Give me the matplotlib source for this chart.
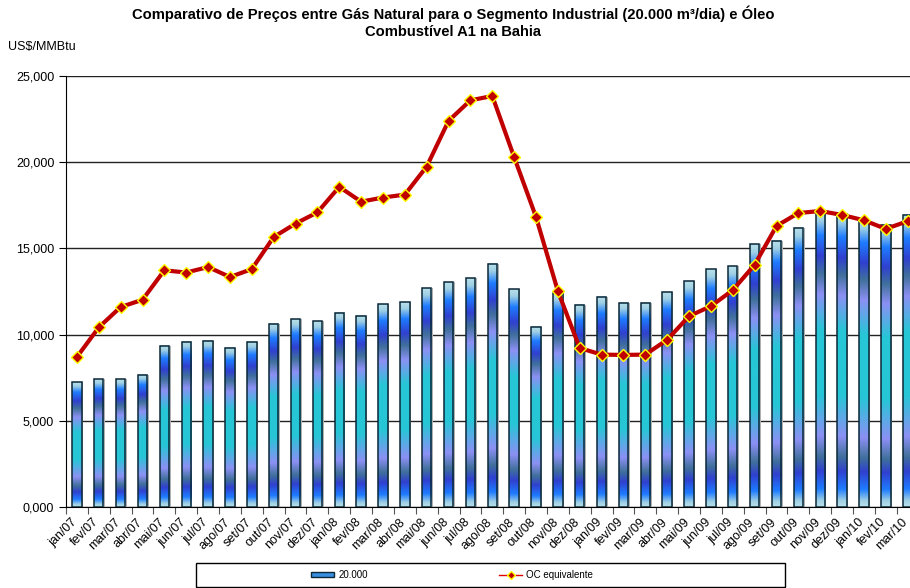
import matplotlib
matplotlib.use("Agg")
import matplotlib.pyplot as plt
import numpy as np
from matplotlib.colors import LinearSegmentedColormap
from matplotlib.patches import Rectangle, Patch
from matplotlib.lines import Line2D
from matplotlib.ticker import FuncFormatter, FixedLocator
from matplotlib.transforms import ScaledTranslation

plt.rcParams['font.family'] = ['Liberation Sans', 'DejaVu Sans']

months = ["jan/07", "fev/07", "mar/07", "abr/07", "mai/07", "jun/07", "jul/07", "ago/07",
          "set/07", "out/07", "nov/07", "dez/07", "jan/08", "fev/08", "mar/08", "abr/08",
          "mai/08", "jun/08", "jul/08", "ago/08", "set/08", "out/08", "nov/08", "dez/08",
          "jan/09", "fev/09", "mar/09", "abr/09", "mai/09", "jun/09", "jul/09", "ago/09",
          "set/09", "out/09", "nov/09", "dez/09", "jan/10", "fev/10", "mar/10"]

gas_20000 = [7.23, 7.41, 7.41, 7.67, 9.36, 9.59, 9.65, 9.24, 9.59, 10.63, 10.88, 10.76,
             11.28, 11.10, 11.76, 11.88, 12.69, 13.04, 13.27, 14.12, 12.63, 10.45, 12.40, 11.73,
             12.20, 11.85, 11.85, 12.45, 13.09, 13.79, 13.97, 15.25, 15.44, 16.20, 17.15, 17.02,
             16.67, 16.38, 16.94]

oc_equivalente = [8.70, 10.42, 11.60, 12.02, 13.73, 13.60, 13.92, 13.34, 13.80, 15.66, 16.44, 17.09,
                  18.57, 17.71, 17.95, 18.12, 19.75, 22.40, 23.59, 23.84, 20.29, 16.82, 12.52, 9.22,
                  8.84, 8.82, 8.84, 9.70, 11.07, 11.65, 12.58, 14.05, 16.30, 17.05, 17.17, 16.94,
                  16.63, 16.13, 16.58]

title = "Comparativo de Preços entre Gás Natural para o Segmento Industrial (20.000 m³/dia) e Óleo\nCombustível A1 na Bahia"
y_label = "US$/MMBtu"
legend_labels = ["20.000", "OC equivalente"]

fig = plt.figure(figsize=(9.1, 5.88), dpi=100)
ax = fig.add_axes([66/910, 81/588, 852.6/910, 431/588])

x = np.arange(len(months))
w = 0.43

grad_colors = [(0.00, '#b8e0ea'), (0.03, '#a0d0e4'), (0.08, '#1e7cff'), (0.15, '#3040d0'),
               (0.21, '#40709c'), (0.28, '#8c90f4'), (0.40, '#26c6d6'), (0.62, '#26c6d6'),
               (0.76, '#8c90f4'), (0.83, '#40709c'), (0.88, '#3040d0'), (0.94, '#1e7cff'),
               (0.98, '#a0d0e4'), (1.00, '#b8e0ea')]
cmap = LinearSegmentedColormap.from_list('bargrad', grad_colors)
grad = np.linspace(0, 1, 256).reshape(-1, 1)

# shadows
ax.bar(x + 0.07, gas_20000, width=w, color='#b0b0b0', zorder=2, linewidth=0)
for xi, h in zip(x, gas_20000):
    ax.imshow(grad, cmap=cmap, extent=(xi - w/2, xi + w/2, 0, h), aspect='auto',
              origin='upper', zorder=3, interpolation='bilinear')
ax.bar(x, gas_20000, width=w, fill=False, edgecolor='#0a2838', linewidth=1.1, zorder=4)

ax.plot(x, oc_equivalente, color='#c00000', lw=3, marker='D', markersize=6,
        markerfacecolor='#c00000', markeredgecolor='#ffff00', markeredgewidth=1, zorder=5)

ax.set_xlim(-0.5, len(months) - 0.5)
ax.set_ylim(0, 25)
ax.set_yticks(np.arange(0, 26, 5))
ax.yaxis.set_major_formatter(FuncFormatter(lambda v, p: f"{v:.3f}".replace('.', ',')))
ax.grid(axis='y', color='#222222', lw=1, zorder=1)
ax.set_axisbelow(True)

ax.xaxis.set_major_locator(FixedLocator(np.arange(-0.5, len(months), 1.0)))
ax.xaxis.set_major_formatter(FuncFormatter(lambda v, p: ""))
ax.tick_params(axis='x', which='major', length=5, color='#555555', direction='out')
ax.tick_params(axis='y', length=5, labelsize=9, direction='out')

lbl_tr = ax.get_xaxis_transform() + ScaledTranslation(-6/100, -9/100, fig.dpi_scale_trans)
for xi, m in zip(x, months):
    ax.text(xi, 0, m, transform=lbl_tr, rotation=45, ha='right', va='top',
            rotation_mode='anchor', fontsize=9, clip_on=False)

for s in ['top', 'right']:
    ax.spines[s].set_visible(False)
ax.spines['left'].set_color('black')
ax.spines['bottom'].set_color('black')

fig.text(453/910, 1 - 6/588, title, ha='center', va='top', fontsize=10.6,
         fontweight='bold', linespacing=1.25)
fig.text(8/910, 1 - 47/588, y_label, ha='left', va='center', fontsize=9)

# legend frame
fig.patches.append(Rectangle((196/910, 1/588), 589/910, 24/588, transform=fig.transFigure,
                             fill=False, edgecolor='black', lw=1))
handles = [Patch(facecolor='#3a8ee0', edgecolor='#0a2838', lw=1),
           Line2D([0], [0], color='#e00000', lw=1, marker='D', markersize=4,
                  markerfacecolor='#c00000', markeredgecolor='#ffff00')]
fig.legend(handles, legend_labels, loc='center', bbox_to_anchor=(452/910, 13/588),
           ncol=2, frameon=False, fontsize=7, columnspacing=13.5, handlelength=2.4,
           handletextpad=0.4, handleheight=0.5)

fig.savefig("out.png", dpi=100)
